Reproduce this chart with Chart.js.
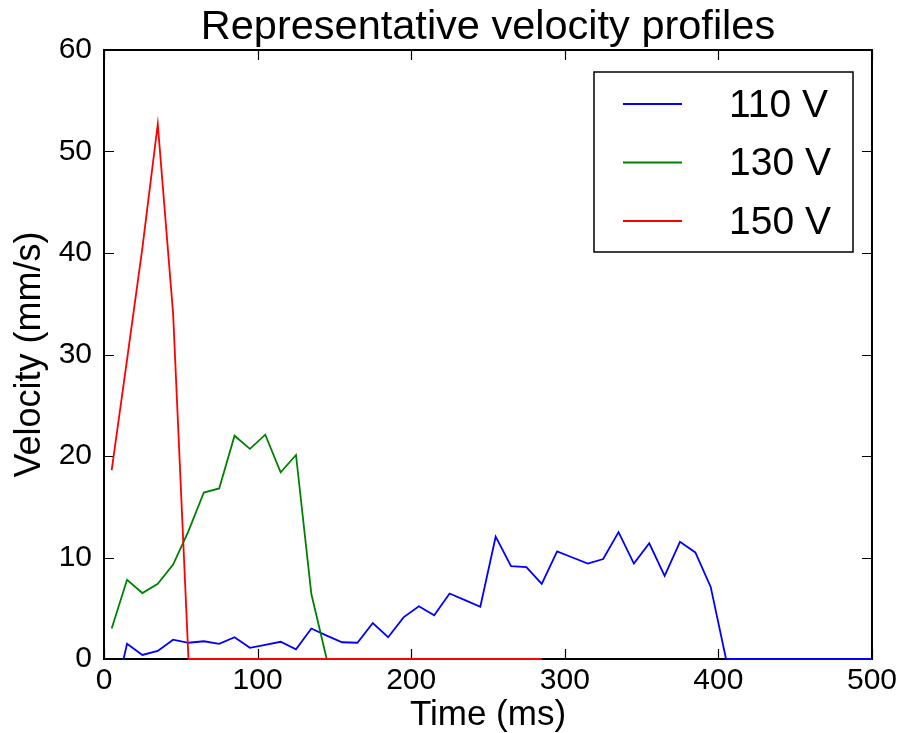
<!DOCTYPE html>
<html>
<head>
<meta charset="utf-8">
<title>Representative velocity profiles</title>
<script src="https://cdn.jsdelivr.net/npm/chart.js@4.4.1/dist/chart.umd.min.js"></script>
<style>
    html, body { margin: 0; padding: 0; background: #fff; }
    #wrap { width: 901px; height: 733px; }
</style>
</head>
<body>
<div id="wrap"><canvas id="chart" width="901" height="733"></canvas></div>
<script>
// --- Data ---
const chartTitle = 'Representative velocity profiles';
const seriesLabels = ['110 V', '130 V', '150 V'];
const seriesColors = ['#0000ff', '#008000', '#ff0000'];

const time110 = [5, 15, 25, 35, 45, 55, 65, 75, 85, 95, 105, 115, 125, 135, 145, 155, 165, 175, 185, 195,
    205, 215, 225, 235, 245, 255, 265, 275, 285, 295, 305, 315, 325, 335, 345, 355, 365, 375, 385, 395,
    405, 415, 425, 435, 445, 455, 465, 475, 485, 495, 505];
const velocity110 = [-5.1, 1.5, 0.4, 0.8, 1.9, 1.6, 1.75, 1.5, 2.15, 1.1, 1.4, 1.7, 0.95, 3.0, 2.3, 1.65, 1.6, 3.55, 2.15, 4.1,
    5.2, 4.3, 6.45, 5.8, 5.15, 12.05, 9.15, 9.05, 7.4, 10.6, 10.0, 9.4, 9.85, 12.5, 9.4, 11.4, 8.2, 11.55, 10.5, 7.1,
    0, 0, 0, 0, 0, 0, 0, 0, 0, 0, 0];

const time130 = [5, 15, 25, 35, 45, 55, 65, 75, 85, 95, 105, 115, 125, 135, 145];
const velocity130 = [3.0, 7.8, 6.5, 7.4, 9.3, 12.6, 16.4, 16.8, 22.0, 20.7, 22.1, 18.4, 20.1, 6.4, 0];

const time150 = [5, 15, 25, 35, 45, 55, 65, 75, 85, 95, 105, 115, 125, 135, 145, 155, 165, 175, 185, 195,
    205, 215, 225, 235, 245, 255, 265, 275, 285];
const velocity150 = [18.6, 29.5, 40.5, 52.7, 34.0, 0, 0, 0, 0, 0, 0, 0, 0, 0, 0, 0, 0, 0, 0, 0,
    0, 0, 0, 0, 0, 0, 0, 0, 0];

const xTicks = [0, 100, 200, 300, 400, 500];
const yTicks = [0, 10, 20, 30, 40, 50, 60];

const FONT = "'Liberation Sans', Arial, sans-serif";

function toPoints(xs, ys) {
    return xs.map((x, i) => ({ x: x, y: ys[i] }));
}

// frame + inward ticks go under the lines (as matplotlib does)
const axesFrame = {
    id: 'axesFrame',
    beforeDatasetsDraw(chart) {
        const ctx = chart.ctx;
        const area = chart.chartArea;
        const xs = chart.scales.x;
        const ys = chart.scales.y;
        ctx.save();
        ctx.strokeStyle = '#000';
        ctx.lineWidth = 1.2;
        const tick = 10;
        ctx.beginPath();
        xTicks.forEach(v => {
            const px = Math.round(xs.getPixelForValue(v)) + 0.5;
            ctx.moveTo(px, area.bottom); ctx.lineTo(px, area.bottom - tick);
            ctx.moveTo(px, area.top); ctx.lineTo(px, area.top + tick);
        });
        yTicks.forEach(v => {
            const py = Math.round(ys.getPixelForValue(v)) + 0.5;
            ctx.moveTo(area.left, py); ctx.lineTo(area.left + tick, py);
            ctx.moveTo(area.right, py); ctx.lineTo(area.right - tick, py);
        });
        ctx.stroke();
        ctx.lineWidth = 2;
        ctx.strokeRect(area.left, area.top, area.right - area.left, area.bottom - area.top);
        ctx.restore();
    }
};

// title centred over the axes, legend inside the axes
const overlay = {
    id: 'overlay',
    afterDraw(chart) {
        const ctx = chart.ctx;
        const area = chart.chartArea;
        ctx.save();

        ctx.fillStyle = '#000';
        ctx.font = `41.5px ${FONT}`;
        ctx.textAlign = 'center';
        ctx.textBaseline = 'alphabetic';
        ctx.fillText(chartTitle, (area.left + area.right) / 2, 39);

        const box = { left: 594, top: 72, width: 259, height: 180 };
        ctx.fillStyle = '#fff';
        ctx.fillRect(box.left, box.top, box.width, box.height);
        ctx.lineWidth = 1.5;
        ctx.strokeStyle = '#000';
        ctx.strokeRect(box.left, box.top, box.width, box.height);

        ctx.font = `39px ${FONT}`;
        ctx.textAlign = 'left';
        ctx.textBaseline = 'middle';
        chart.data.datasets.forEach((ds, i) => {
            const y = 104 + i * 58.5;
            ctx.strokeStyle = ds.borderColor;
            ctx.lineWidth = 1.8;
            ctx.beginPath();
            ctx.moveTo(623, y);
            ctx.lineTo(682, y);
            ctx.stroke();
            ctx.fillStyle = '#000';
            ctx.fillText(ds.label, 729, y + 2);
        });

        ctx.restore();
    }
};

const allTimes = [time110, time130, time150];
const allVelocities = [velocity110, velocity130, velocity150];

const datasets = seriesLabels.map((label, i) => ({
    label: label,
    data: toPoints(allTimes[i], allVelocities[i]),
    borderColor: seriesColors[i],
    backgroundColor: seriesColors[i],
    borderWidth: 1.8,
    pointRadius: 0,
    tension: 0,
    fill: false,
    clip: { left: 0, top: 0, right: 0, bottom: 1 },
    order: seriesLabels.length - 1 - i   // later series drawn on top
}));

new Chart(document.getElementById('chart').getContext('2d'), {
    type: 'line',
    data: { datasets: datasets },
    plugins: [axesFrame, overlay],
    options: {
        responsive: false,
        animation: false,
        layout: { padding: { top: 50, right: 28, bottom: 0, left: 0 } },
        plugins: {
            legend: { display: false },
            title: { display: false },
            tooltip: { enabled: false }
        },
        scales: {
            x: {
                type: 'linear',
                min: 0,
                max: 500,
                afterBuildTicks: (scale) => { scale.ticks = xTicks.map(v => ({ value: v })); },
                afterFit: (scale) => { scale.height = 74; },
                grid: { display: false, drawTicks: false },
                border: { display: false },
                ticks: { color: '#000', padding: 4, maxRotation: 0, font: { family: FONT, size: 30 } },
                title: {
                    display: true,
                    text: 'Time (ms)',
                    color: '#000',
                    padding: { top: 0, bottom: 0 },
                    font: { family: FONT, size: 35, lineHeight: 1 }
                }
            },
            y: {
                min: 0,
                max: 60,
                afterBuildTicks: (scale) => { scale.ticks = yTicks.map(v => ({ value: v })); },
                afterFit: (scale) => { scale.width = 104; },
                grid: { display: false, drawTicks: false },
                border: { display: false },
                ticks: { color: '#000', padding: 12, font: { family: FONT, size: 30 } },
                title: {
                    display: true,
                    text: 'Velocity (mm/s)',
                    color: '#000',
                    padding: { top: 12, bottom: 0 },
                    font: { family: FONT, size: 36, lineHeight: 1 }
                }
            }
        }
    }
});
</script>
</body>
</html>
